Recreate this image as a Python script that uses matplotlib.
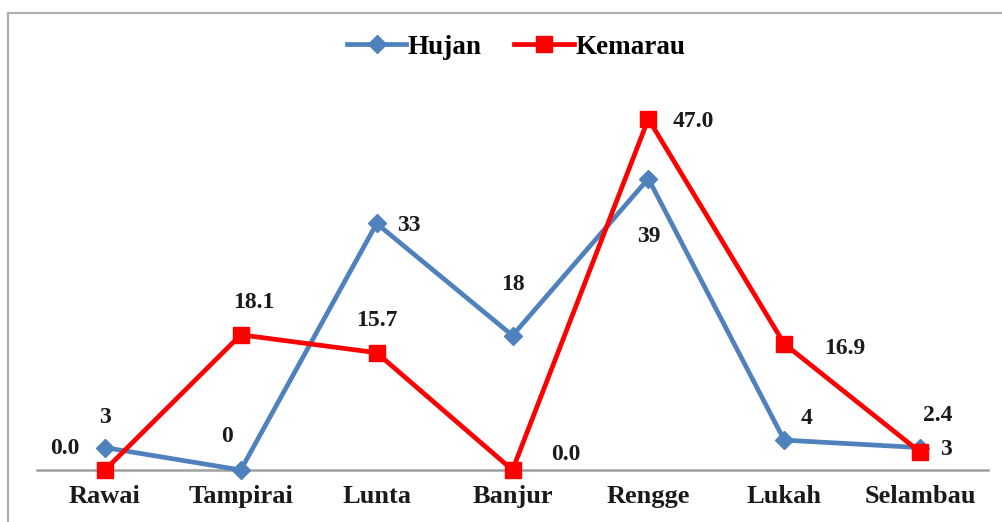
import matplotlib
matplotlib.use("Agg")
import matplotlib.pyplot as plt
from matplotlib.lines import Line2D

# data
sites = ["Rawai", "Tampirai", "Lunta", "Banjur", "Rengge", "Lukah", "Selambau"]
hujan = [3, 0, 33, 18, 39, 4, 3]
kemarau = [0.0, 18.1, 15.7, 0.0, 47.0, 16.9, 2.4]
hujan_labels = ["3", "0", "33", "18", "39", "4", "3"]
kemarau_labels = ["0.0", "18.1", "15.7", "0.0", "47.0", "16.9", "2.4"]

# label offsets (pixels) for each point
hujan_off = [(0, 30), (-14, 34), (32, -2), (0, 51), (0, -58), (22, 22), (26, -2)]
kemarau_off = [(-40, 22), (13, 32), (0, 32), (53, 15), (45, -3), (61, -5), (18, 37)]

plt.rcParams['font.family'] = ['Liberation Serif', 'DejaVu Serif']
plt.rcParams['font.weight'] = 'bold'

fig = plt.figure(figsize=(10.02, 5.22), dpi=100)
ax = fig.add_axes([37 / 1002, 52 / 522, 951 / 1002, 373.5 / 522])

# outer chart frame (only top and left edges are visible in the crop)
top = 1 - 13 / 522
left = 8 / 1002
fig.add_artist(Line2D([left, 1.0], [top, top], transform=fig.transFigure,
                      color='#b0b0b0', lw=1.6))
fig.add_artist(Line2D([left, left], [0, top], transform=fig.transFigure,
                      color='#b0b0b0', lw=1.6))

blue = '#4F81BD'
red = '#FF0000'
x = list(range(len(sites)))

ax.plot(x, hujan, color=blue, lw=3.4, marker='D', markersize=9.5,
        label='Hujan', clip_on=False, zorder=3)
ax.plot(x, kemarau, color=red, lw=3.4, marker='s', markersize=11.5,
        label='Kemarau', clip_on=False, zorder=3)

for i in x:
    ax.annotate(hujan_labels[i], (i, hujan[i]), xytext=hujan_off[i],
                textcoords='offset pixels', ha='center', va='center',
                fontsize=17, fontweight='bold', color='#1a1a1a')
    ax.annotate(kemarau_labels[i], (i, kemarau[i]), xytext=kemarau_off[i],
                textcoords='offset pixels', ha='center', va='center',
                fontsize=17, fontweight='bold', color='#1a1a1a')

ax.set_xlim(-0.5, 6.5)
ax.set_ylim(0, 50)
ax.set_xticks(x)
ax.set_xticklabels(sites, fontsize=19, fontweight='bold', color='#1a1a1a')
ax.tick_params(axis='x', length=0, pad=11)
ax.set_yticks([])
for s in ['left', 'right', 'top']:
    ax.spines[s].set_visible(False)
ax.spines['bottom'].set_color('#a0a0a0')
ax.spines['bottom'].set_linewidth(1.8)

fig.legend(loc='center', bbox_to_anchor=(0.515, 1 - 47 / 522), ncol=2,
           frameon=False, fontsize=19.5, handlelength=2.2, columnspacing=1.2,
           handletextpad=0.05)

fig.savefig('out.png', dpi=100)
